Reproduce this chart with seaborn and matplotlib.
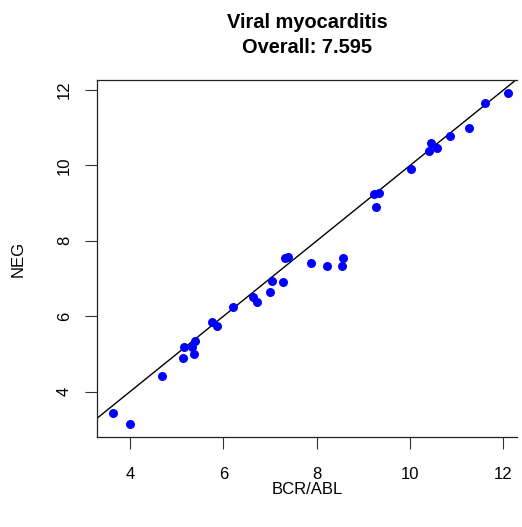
import numpy as np
import pandas as pd
import matplotlib
matplotlib.use("Agg")
import matplotlib.pyplot as plt
import seaborn as sns

# values
bcr_abl = [3.64, 4.00, 4.69, 5.13, 5.16, 5.32, 5.37, 5.40, 5.76, 5.86, 6.20,
           6.64, 6.72, 7.00, 7.05, 7.28, 7.32, 7.39, 7.88, 8.22, 8.54, 8.57,
           9.23, 9.26, 9.33, 10.01, 10.40, 10.45, 10.58, 10.85, 11.26, 11.60, 12.09]
neg = [3.44, 3.13, 4.42, 4.90, 5.18, 5.19, 5.01, 5.34, 5.84, 5.74, 6.25,
       6.52, 6.39, 6.65, 6.94, 6.92, 7.54, 7.58, 7.40, 7.34, 7.34, 7.55,
       9.24, 8.91, 9.27, 9.90, 10.39, 10.59, 10.47, 10.79, 11.00, 11.65, 11.93]
x_ticks = [4, 6, 8, 10, 12]
y_ticks = [4, 6, 8, 10, 12]
title_lines = ["Viral myocarditis", "Overall: 7.595"]

df = pd.DataFrame({"BCR/ABL": bcr_abl, "NEG": neg})

sns.set_style("white")
plt.rcParams["font.family"] = ["Liberation Sans", "DejaVu Sans"]
plt.rcParams["text.color"] = "black"
plt.rcParams["xtick.color"] = "black"
plt.rcParams["ytick.color"] = "black"

W, H = 522, 527
fig = plt.figure(figsize=(W / 100, H / 100), dpi=100)
left, right, top, bottom = 97.3, 517.0, 80.0, 437.3
ax = fig.add_axes([left / W, 1 - bottom / H, (right - left) / W, (bottom - top) / H])

sns.scatterplot(data=df, x="BCR/ABL", y="NEG", color="blue", s=42,
                linewidth=0, ax=ax, zorder=3)
ax.axline((0, 0), slope=1, color="black", lw=1.0, zorder=2)

ax.set_xlim(3.30, 12.29)
ax.set_ylim(2.79, 12.265)
ax.set_xticks(x_ticks)
ax.set_yticks(y_ticks)
ax.set_xlabel("")
ax.set_ylabel("")

for side in ["left", "top", "bottom"]:
    ax.spines[side].set_color("#222222")
    ax.spines[side].set_linewidth(0.9)
ax.spines["right"].set_visible(False)

ax.tick_params(axis="both", direction="out", length=8.3, width=0.8,
               color="#333333", labelcolor="black", labelsize=12,
               left=True, bottom=True)
ax.tick_params(axis="x", pad=13)
ax.tick_params(axis="y", pad=10)
for lab in ax.get_yticklabels():
    lab.set_rotation(90)
    lab.set_va("center")

fig.text(18.3 / W, 1 - 258.5 / H, "NEG", rotation=90, ha="center", va="center", fontsize=12)
fig.text(((left + right) / 2) / W, 1 - 490 / H, "BCR/ABL", ha="center", va="center", fontsize=12)

cx = ((left + right) / 2) / W
fig.text(cx, 1 - 27.7 / H, title_lines[0], ha="center", va="baseline",
         fontsize=14.4, fontweight="bold")
fig.text(cx, 1 - 53.3 / H, title_lines[1], ha="center", va="baseline",
         fontsize=14.4, fontweight="bold")

fig.savefig("out.png", dpi=100)
